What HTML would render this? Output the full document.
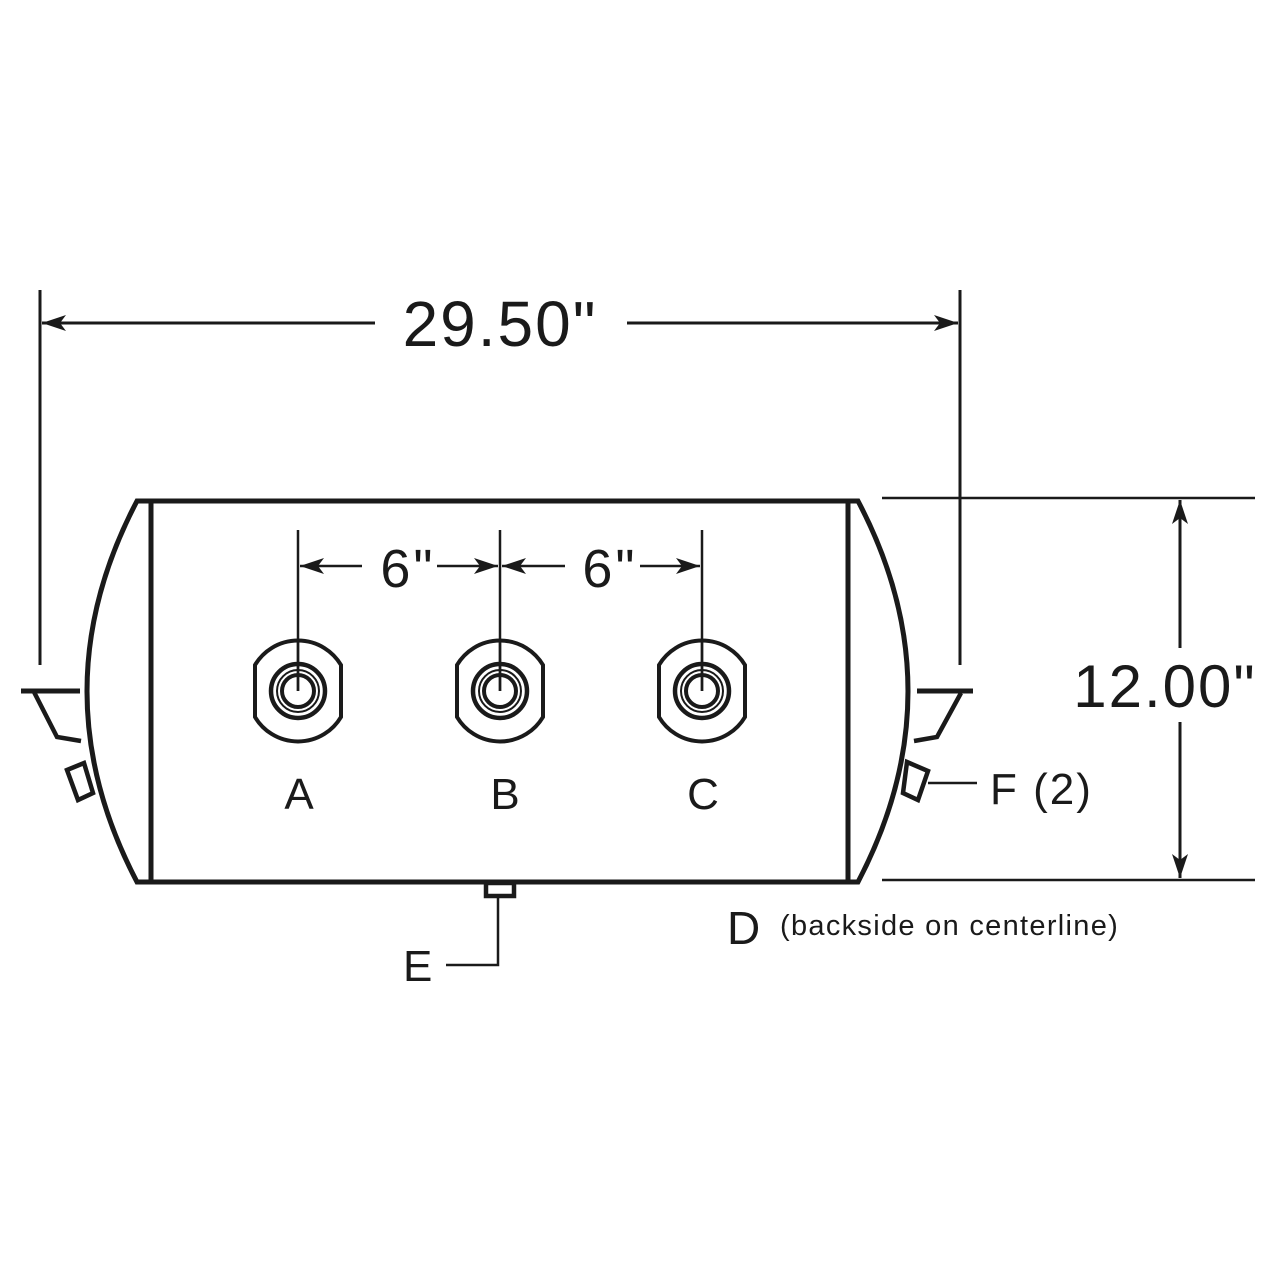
<!DOCTYPE html>
<html><head><meta charset="utf-8"><style>
html,body{margin:0;padding:0;background:#fff;}
svg{display:block;}
text{font-family:"Liberation Sans",sans-serif;fill:#1a1a1a;}
</style></head><body>
<svg width="1280" height="1280" viewBox="0 0 1280 1280" xmlns="http://www.w3.org/2000/svg">
<defs>
<marker id="ar" viewBox="0 0 24 16" refX="24" refY="8" markerWidth="24" markerHeight="16" markerUnits="userSpaceOnUse" orient="auto-start-reverse">
<path d="M0,0 L24,8 L0,16 L6,8 Z" fill="#1a1a1a"/>
</marker>
<g id="fit" fill="none" stroke="#1a1a1a">
<path d="M-43,-26 A50,50 0 0 1 43,-26 L43,26 A50,50 0 0 1 -43,26 Z" stroke-width="4"/>
<circle r="27" stroke-width="4.5"/>
<circle r="21" stroke-width="2"/>
<circle r="16" stroke-width="4"/>
</g>
</defs>
<g stroke="#1a1a1a" fill="none">
<line x1="40" y1="290" x2="40" y2="665" stroke-width="3"/>
<line x1="960" y1="290" x2="960" y2="665" stroke-width="3"/>
<line x1="42" y1="323" x2="375" y2="323" stroke-width="3" marker-start="url(#ar)"/>
<line x1="627" y1="323" x2="958" y2="323" stroke-width="3" marker-end="url(#ar)"/>
<line x1="882" y1="498" x2="1255" y2="498" stroke-width="2.5"/>
<line x1="882" y1="880" x2="1255" y2="880" stroke-width="2.5"/>
<line x1="1180" y1="500" x2="1180" y2="648" stroke-width="3" marker-start="url(#ar)"/>
<line x1="1180" y1="722" x2="1180" y2="878" stroke-width="3" marker-end="url(#ar)"/>
<path d="M137,501 L858,501 Q958,691 858,882 L137,882 Q37,691 137,501 Z" stroke-width="5"/>
<line x1="151" y1="501" x2="151" y2="882" stroke-width="5"/>
<line x1="848" y1="501" x2="848" y2="882" stroke-width="5"/>
<line x1="21" y1="691" x2="80" y2="691" stroke-width="5"/>
<path d="M34,692 L57,737 L81,741" stroke-width="4.5"/>
<path d="M67,770 L84,763 L93,793 L78,800 Z" stroke-width="4.5"/>
<line x1="917" y1="691" x2="973" y2="691" stroke-width="5"/>
<path d="M961,693 L937,737 L914,741" stroke-width="4.5"/>
<path d="M907,762 L928,771 L918,800 L903,793 Z" stroke-width="4.5"/>
<line x1="928" y1="783" x2="977" y2="783" stroke-width="2.5"/>
<rect x="486" y="883" width="28" height="13" stroke-width="4.5"/>
<path d="M446,965 L498,965 L498,896" stroke-width="2.5"/>
<line x1="298" y1="530" x2="298" y2="691" stroke-width="2.5"/>
<line x1="500" y1="530" x2="500" y2="691" stroke-width="2.5"/>
<line x1="702" y1="530" x2="702" y2="691" stroke-width="2.5"/>
<line x1="300" y1="566" x2="362" y2="566" stroke-width="2.5" marker-start="url(#ar)"/>
<line x1="437" y1="566" x2="498" y2="566" stroke-width="2.5" marker-end="url(#ar)"/>
<line x1="502" y1="566" x2="565" y2="566" stroke-width="2.5" marker-start="url(#ar)"/>
<line x1="640" y1="566" x2="700" y2="566" stroke-width="2.5" marker-end="url(#ar)"/>
</g>
<use href="#fit" x="298" y="691"/>
<use href="#fit" x="500" y="691"/>
<use href="#fit" x="702" y="691"/>
<g stroke="#1a1a1a" stroke-width="2.5">
<line x1="298" y1="640" x2="298" y2="691"/>
<line x1="500" y1="640" x2="500" y2="691"/>
<line x1="702" y1="640" x2="702" y2="691"/>
</g>
<text x="500" y="346" font-size="64" text-anchor="middle" letter-spacing="2">29.50"</text>
<text x="1165" y="707" font-size="60" text-anchor="middle" letter-spacing="2">12.00"</text>
<text x="408" y="587" font-size="54" text-anchor="middle" letter-spacing="3">6"</text>
<text x="610" y="587" font-size="54" text-anchor="middle" letter-spacing="3">6"</text>
<text x="299" y="809" font-size="44" text-anchor="middle">A</text>
<text x="505" y="809" font-size="44" text-anchor="middle">B</text>
<text x="703" y="809" font-size="44" text-anchor="middle">C</text>
<text x="990" y="804" font-size="44" letter-spacing="2">F (2)</text>
<text x="403" y="981" font-size="44">E</text>
<text x="727" y="944" font-size="46">D</text>
<text x="780" y="935" font-size="29" letter-spacing="1.3">(backside on centerline)</text>
</svg>
</body></html>
